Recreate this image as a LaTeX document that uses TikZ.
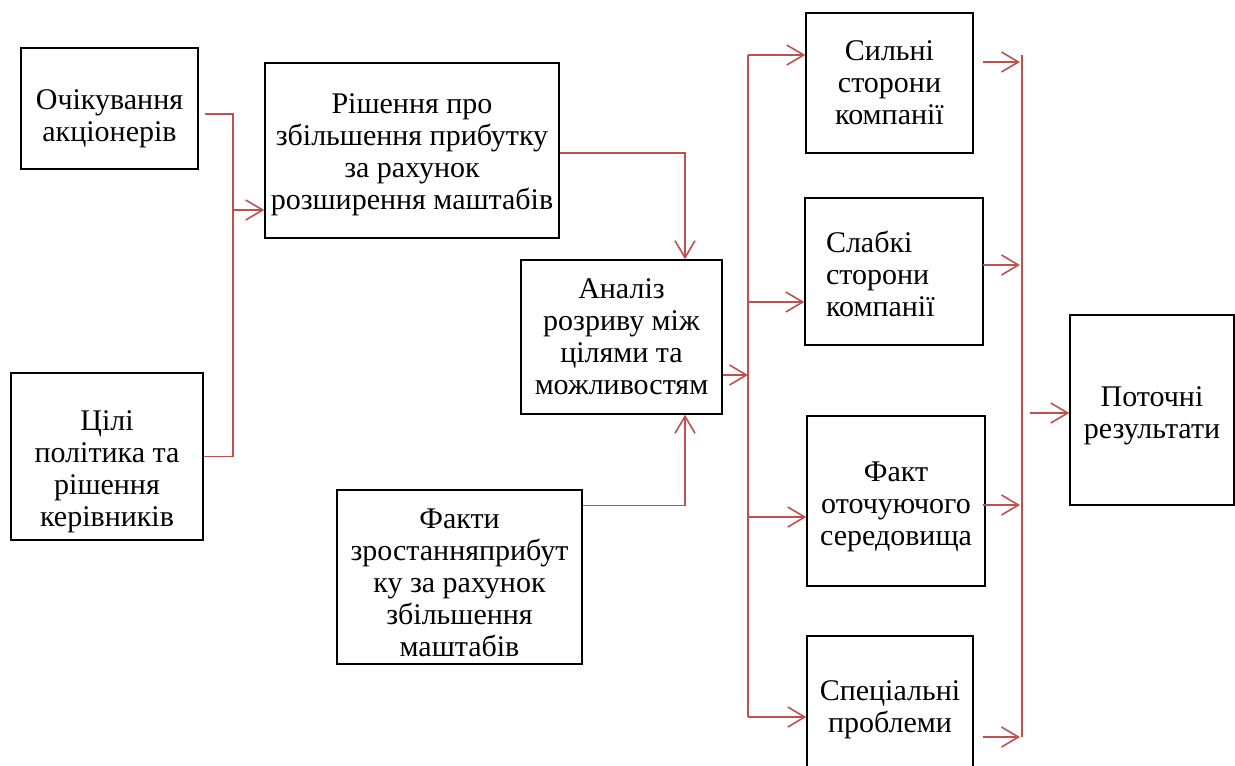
\documentclass[tikz,border=0pt]{standalone}
\usepackage{fontspec}
\setmainfont{Liberation Serif}
\usetikzlibrary{calc,positioning,arrows.meta}
\definecolor{wordred}{RGB}{192,80,77}
\newcommand{\topgap}[1]{\rule{0pt}{#1}}

\begin{document}
\begin{tikzpicture}[x=0.5pt, y=-0.5pt,
  box/.style={draw, line width=0.7pt, align=center, inner sep=2pt,
    font=\fontsize{15}{16}\selectfont},
  conn/.style={wordred, line width=0.8pt},
  arr/.style={conn, -{Straight Barb[length=8.5pt,width=10pt]}}]
  \useasboundingbox (0,0) rectangle (1235,765);

  % boxes
  \node[box, minimum width=88.5pt, minimum height=60.5pt] (ochik) at (109.5,108.5) {\topgap{20.2pt}Очікування\\акціонерів};
  \node[box, minimum width=96pt, minimum height=83.5pt] (tsili) at (107,456.5) {\topgap{25.2pt}Цілі\\політика та\\рішення\\керівників};
  \node[box, minimum width=147pt, minimum height=87.5pt] (rishennya) at (412,150.5) {\topgap{14.2pt}Рішення про\\збільшення прибутку\\за рахунок\\розширення маштабів};
  \node[box, minimum width=100.5pt, minimum height=77pt] (analiz) at (621.5,337) {Аналіз\\розриву між\\цілями та\\можливостям};
  \node[box, minimum width=122.5pt, minimum height=87pt] (fakty) at (459.5,577) {\topgap{15.2pt}Факти\\зростанняприбут\\ку за рахунок\\збільшення\\маштабів};
  \node[box, minimum width=83.5pt, minimum height=70pt] (sylni) at (889.5,83) {Сильні\\сторони\\компанії};
  \node[box, align=left, inner xsep=10.5pt, text width=68pt, minimum height=73.5pt] (slabki) at (894,271.5) {\topgap{13.2pt}Слабкі\\сторони\\компанії};
  \node[box, minimum width=89pt, minimum height=85pt] (fakt) at (896,501) {\topgap{15.2pt}Факт\\оточуючого\\середовища};
  \node[box, minimum width=83pt, minimum height=69pt] (spets) at (890,705) {\topgap{14.2pt}Спеціальні\\проблеми};
  \node[box, minimum width=82pt, minimum height=95pt] (potochni) at (1152,410) {\topgap{16.2pt}Поточні\\результати};

  % left part
  \coordinate (jL) at (233,210);
  \draw[conn] ($(ochik.east)+(3pt,-2.75pt)$) -| (jL) |- (tsili.east);
  \draw[arr] (jL) -- (jL -| rishennya.west);

  \coordinate (jA) at (685,0);
  \draw[arr] ($(rishennya.east)+(0,-1.25pt)$) -| (jA |- analiz.north);
  \draw[arr] ($(fakty.north east)+(0,-8pt)$) -| (jA |- analiz.south);

  % distribution bus
  \coordinate (bL1) at (748,55);
  \coordinate (bL2) at (748,717);
  \coordinate (jB) at (748,375);
  \draw[conn] (bL1) -- (bL2);
  \draw[arr] (analiz.east |- jB) -- (jB);
  \foreach \n/\y in {sylni/55, slabki/302, fakt/517, spets/717}{
    \coordinate (i\n) at (748,\y);
    \draw[arr] (i\n) -- (i\n -| \n.west);
  }

  % collecting bus
  \coordinate (bR1) at (1022,55);
  \coordinate (bR2) at (1022,737);
  \draw[conn] (bR1) -- (bR2);
  \foreach \n/\y in {sylni/62, slabki/265, fakt/505, spets/737}{
    \coordinate (s\n) at (983,\y);
    \coordinate (o\n) at (1020,\y);
    \draw[arr] (s\n) -- (o\n);
  }
  \coordinate (jR) at (1030,413);
  \draw[arr] (jR) -- (jR -| potochni.west);
\end{tikzpicture}
\end{document}
